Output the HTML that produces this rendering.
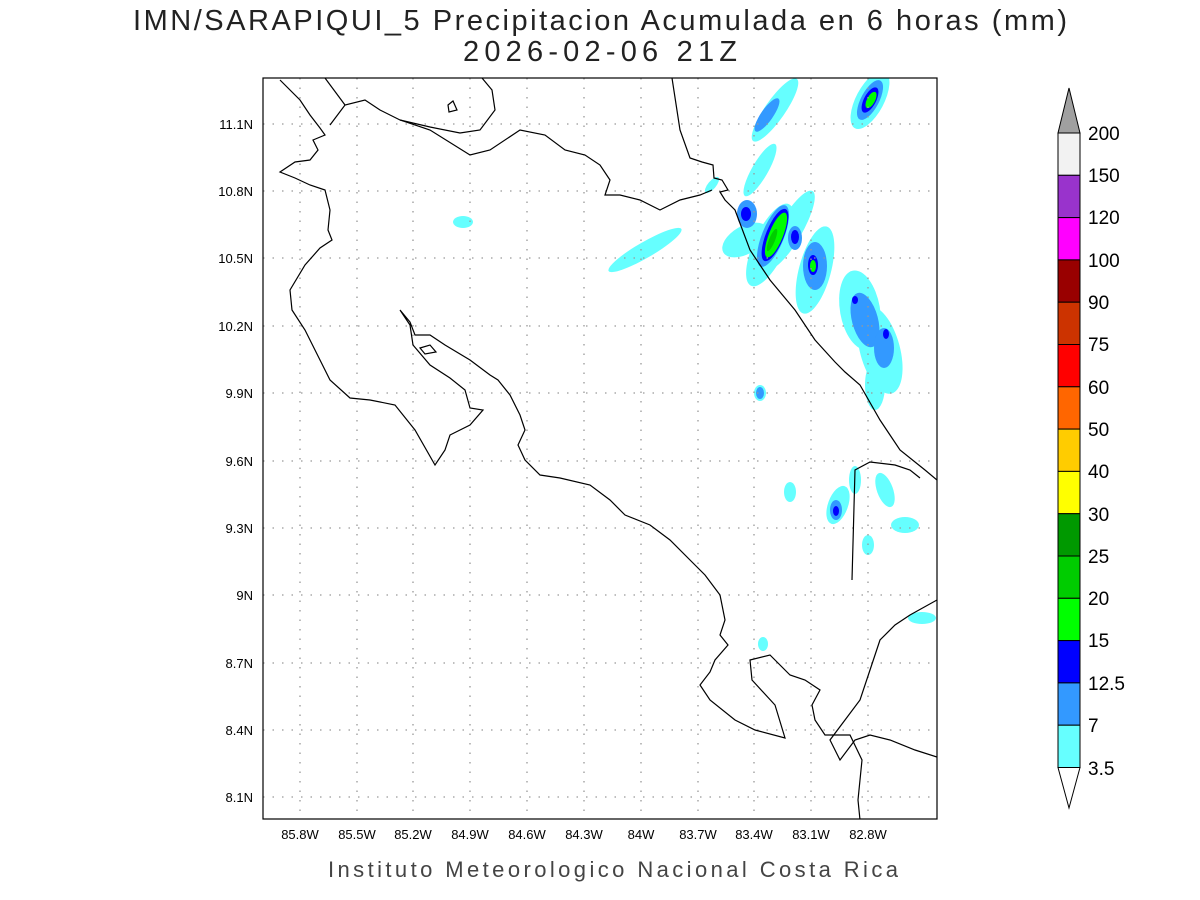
<!DOCTYPE html>
<html><head><meta charset="utf-8"><style>
body{margin:0;background:#fff;}
svg{display:block;font-family:"Liberation Sans",sans-serif;}
</style></head><body>
<svg width="1200" height="900" viewBox="0 0 1200 900" xmlns="http://www.w3.org/2000/svg">
<rect width="1200" height="900" fill="#fff"/>
<text x="133" y="30" font-size="29" fill="#222" textLength="934" lengthAdjust="spacing">IMN/SARAPIQUI_5 Precipitacion Acumulada en 6 horas (mm)</text>
<text x="463" y="61" font-size="29" fill="#222" textLength="274" lengthAdjust="spacing">2026-02-06 21Z</text>
<defs><clipPath id="c"><rect x="263" y="78" width="674" height="741"/></clipPath></defs>
<g clip-path="url(#c)">
<g fill="#66ffff">
<ellipse cx="775" cy="110" rx="10" ry="38" transform="rotate(35 775 110)"/>
<ellipse cx="870" cy="100" rx="14" ry="32" transform="rotate(28 870 100)"/>
<ellipse cx="760" cy="170" rx="8" ry="30" transform="rotate(30 760 170)"/>
<ellipse cx="790" cy="230" rx="12" ry="45" transform="rotate(30 790 230)"/>
<ellipse cx="745" cy="240" rx="25" ry="14" transform="rotate(-30 745 240)"/>
<ellipse cx="770" cy="245" rx="16" ry="45" transform="rotate(25 770 245)"/>
<ellipse cx="815" cy="270" rx="16" ry="45" transform="rotate(15 815 270)"/>
<ellipse cx="860" cy="310" rx="20" ry="40" transform="rotate(-10 860 310)"/>
<ellipse cx="880" cy="350" rx="20" ry="45" transform="rotate(-15 880 350)"/>
<ellipse cx="875" cy="385" rx="10" ry="25"/>
<ellipse cx="645" cy="250" rx="8" ry="42" transform="rotate(60 645 250)"/>
<ellipse cx="463" cy="222" rx="10" ry="6"/>
<ellipse cx="760" cy="393" rx="6" ry="8"/>
<ellipse cx="790" cy="492" rx="6" ry="10"/>
<ellipse cx="838" cy="505" rx="10" ry="20" transform="rotate(20 838 505)"/>
<ellipse cx="855" cy="480" rx="6" ry="14"/>
<ellipse cx="885" cy="490" rx="8" ry="18" transform="rotate(-20 885 490)"/>
<ellipse cx="905" cy="525" rx="14" ry="8"/>
<ellipse cx="868" cy="545" rx="6" ry="10"/>
<ellipse cx="922" cy="618" rx="14" ry="6"/>
<ellipse cx="763" cy="644" rx="5" ry="7"/>
<ellipse cx="712" cy="185" rx="4" ry="10" transform="rotate(40 712 185)"/>
</g>
<g fill="#3399ff">
<ellipse cx="767" cy="115" rx="6" ry="20" transform="rotate(35 767 115)"/>
<ellipse cx="870" cy="100" rx="9" ry="22" transform="rotate(28 870 100)"/>
<ellipse cx="747" cy="214" rx="10" ry="14"/>
<ellipse cx="773" cy="236" rx="11" ry="33" transform="rotate(22 773 236)"/>
<ellipse cx="795" cy="238" rx="7" ry="12"/>
<ellipse cx="815" cy="266" rx="12" ry="24"/>
<ellipse cx="865" cy="320" rx="13" ry="28" transform="rotate(-15 865 320)"/>
<ellipse cx="884" cy="348" rx="10" ry="20"/>
<ellipse cx="760" cy="393" rx="4" ry="6"/>
<ellipse cx="836" cy="510" rx="6" ry="10"/>
</g>
<g fill="#0000ff">
<ellipse cx="870" cy="100" rx="6" ry="14" transform="rotate(28 870 100)"/>
<ellipse cx="746" cy="214" rx="5" ry="7"/>
<ellipse cx="775" cy="235" rx="9" ry="28" transform="rotate(22 775 235)"/>
<ellipse cx="795" cy="237" rx="4" ry="7"/>
<ellipse cx="813" cy="265" rx="5" ry="10"/>
<ellipse cx="855" cy="300" rx="3" ry="4"/>
<ellipse cx="886" cy="334" rx="3" ry="5"/>
<ellipse cx="836" cy="511" rx="3" ry="5"/>
</g>
<g fill="#00ff00">
<ellipse cx="871" cy="100" rx="4" ry="9" transform="rotate(28 871 100)"/>
<ellipse cx="776" cy="235" rx="7" ry="24" transform="rotate(22 776 235)"/>
<ellipse cx="813" cy="266" rx="3" ry="6"/>
</g>
<ellipse cx="772" cy="240" rx="3" ry="12" transform="rotate(22 772 240)" fill="#00cc00"/>
<g stroke="#999" stroke-width="1.3" stroke-dasharray="1.5,8">
<line x1="263" x2="937" y1="124" y2="124"/><line x1="263" x2="937" y1="191" y2="191"/>
<line x1="263" x2="937" y1="258" y2="258"/><line x1="263" x2="937" y1="326" y2="326"/>
<line x1="263" x2="937" y1="393" y2="393"/><line x1="263" x2="937" y1="461" y2="461"/>
<line x1="263" x2="937" y1="528" y2="528"/><line x1="263" x2="937" y1="595" y2="595"/>
<line x1="263" x2="937" y1="663" y2="663"/><line x1="263" x2="937" y1="730" y2="730"/>
<line x1="263" x2="937" y1="797" y2="797"/>
<line y1="78" y2="819" x1="300" x2="300"/><line y1="78" y2="819" x1="357" x2="357"/>
<line y1="78" y2="819" x1="413" x2="413"/><line y1="78" y2="819" x1="470" x2="470"/>
<line y1="78" y2="819" x1="527" x2="527"/><line y1="78" y2="819" x1="584" x2="584"/>
<line y1="78" y2="819" x1="641" x2="641"/><line y1="78" y2="819" x1="698" x2="698"/>
<line y1="78" y2="819" x1="754" x2="754"/><line y1="78" y2="819" x1="811" x2="811"/>
<line y1="78" y2="819" x1="868" x2="868"/>
</g>
<g fill="none" stroke="#000" stroke-width="1.2">
<path d="M280,80 L300,100 L310,115 L320,128 L325,135 L313,140 L318,150 L310,160 L295,162 L280,172 L295,178 L310,185 L325,190 L330,210 L328,230 L332,240 L320,248 L305,265 L290,290 L292,310 L305,330 L320,360 L330,380 L350,398 L370,400 L395,405 L415,430 L435,465 L445,450 L450,435 L470,425 L483,410 L470,408 L465,390 L450,378 L430,365 L413,345 L410,325 L400,310 L410,322 L415,335 L430,335 L445,345 L470,360 L490,375 L498,380 L510,395 L520,415 L525,430 L518,445 L525,460 L540,475 L560,478 L590,485 L610,500 L625,515 L650,525 L670,540 L690,560 L705,575 L720,595 L725,620 L720,635 L728,645 L715,660 L710,672 L700,685 L710,700 L735,720 L755,730 L785,738 L775,705 L752,680 L750,660 L770,655 L790,675 L805,680 L820,690 L812,705 L815,720 L825,735 L850,735 L862,760 L858,800 L860,820"/>
<path d="M330,125 L345,105 L365,100 L380,110 L400,120 L430,130 L470,155 L490,150 L520,130 L545,135 L565,150 L585,155 L600,165 L610,180 L605,195 L620,195 L640,200 L660,210 L680,200 L700,195 L712,190"/>
<path d="M400,120 L430,127 L460,133 L480,130 L495,110 L492,90 L482,78"/>
<path d="M325,78 L345,105"/>
<path d="M448,105 L453,101 L457,110 L449,112 Z"/>
<path d="M420,348 L430,345 L436,352 L425,354 Z"/>
<path d="M672,78 L680,130 L690,158 L702,162 L713,165 L714,178 L722,180 L728,190 L720,192 L725,200 L735,210 L750,250 L770,280 L795,310 L815,340 L835,362 L845,372 L860,385 L880,420 L900,450 L925,470 L937,480"/>
<path d="M852,580 L855,470 L870,462 L895,465 L910,470 L920,478"/>
<path d="M937,600 L910,615 L895,625 L880,640 L870,670 L860,700 L845,720 L830,740 L840,760 L855,740 L870,735 L890,740 L915,750 L937,757"/>
</g>
</g>
<rect x="263" y="78" width="674" height="741" fill="none" stroke="#000" stroke-width="1.2"/>
<g font-size="13" fill="#000" text-anchor="end">
<text x="253" y="129">11.1N</text><text x="253" y="196">10.8N</text><text x="253" y="263">10.5N</text>
<text x="253" y="331">10.2N</text><text x="253" y="398">9.9N</text><text x="253" y="466">9.6N</text>
<text x="253" y="533">9.3N</text><text x="253" y="600">9N</text><text x="253" y="668">8.7N</text>
<text x="253" y="735">8.4N</text><text x="253" y="802">8.1N</text>
</g>
<g font-size="13" fill="#000" text-anchor="middle">
<text x="300" y="839">85.8W</text><text x="357" y="839">85.5W</text><text x="413" y="839">85.2W</text>
<text x="470" y="839">84.9W</text><text x="527" y="839">84.6W</text><text x="584" y="839">84.3W</text>
<text x="641" y="839">84W</text><text x="698" y="839">83.7W</text><text x="754" y="839">83.4W</text>
<text x="811" y="839">83.1W</text><text x="868" y="839">82.8W</text>
</g>
<text x="328" y="877" font-size="22" fill="#444" textLength="570" lengthAdjust="spacing">Instituto Meteorologico Nacional Costa Rica</text>
<g stroke="#000" stroke-width="1">
<polygon points="1058,133 1080,133 1069,88" fill="#a0a0a0"/>
<rect x="1058" y="133" width="22" height="42.3" fill="#f2f2f2"/>
<rect x="1058" y="175.3" width="22" height="42.3" fill="#9933cc"/>
<rect x="1058" y="217.6" width="22" height="42.3" fill="#ff00ff"/>
<rect x="1058" y="259.9" width="22" height="42.3" fill="#990000"/>
<rect x="1058" y="302.2" width="22" height="42.3" fill="#cc3300"/>
<rect x="1058" y="344.5" width="22" height="42.3" fill="#ff0000"/>
<rect x="1058" y="386.8" width="22" height="42.3" fill="#ff6600"/>
<rect x="1058" y="429.1" width="22" height="42.3" fill="#ffcc00"/>
<rect x="1058" y="471.4" width="22" height="42.3" fill="#ffff00"/>
<rect x="1058" y="513.7" width="22" height="42.3" fill="#009900"/>
<rect x="1058" y="556" width="22" height="42.3" fill="#00cc00"/>
<rect x="1058" y="598.3" width="22" height="42.3" fill="#00ff00"/>
<rect x="1058" y="640.6" width="22" height="42.3" fill="#0000ff"/>
<rect x="1058" y="682.9" width="22" height="42.3" fill="#3399ff"/>
<rect x="1058" y="725.2" width="22" height="42.3" fill="#66ffff"/>
<polygon points="1058,767.5 1080,767.5 1069,808" fill="#fff"/>
</g>
<g font-size="19" fill="#000">
<text x="1088" y="140">200</text><text x="1088" y="182">150</text><text x="1088" y="224">120</text>
<text x="1088" y="267">100</text><text x="1088" y="309">90</text><text x="1088" y="351">75</text>
<text x="1088" y="394">60</text><text x="1088" y="436">50</text><text x="1088" y="478">40</text>
<text x="1088" y="521">30</text><text x="1088" y="563">25</text><text x="1088" y="605">20</text>
<text x="1088" y="647">15</text><text x="1088" y="690">12.5</text><text x="1088" y="732">7</text>
<text x="1088" y="775">3.5</text>
</g>
</svg>
</body></html>
